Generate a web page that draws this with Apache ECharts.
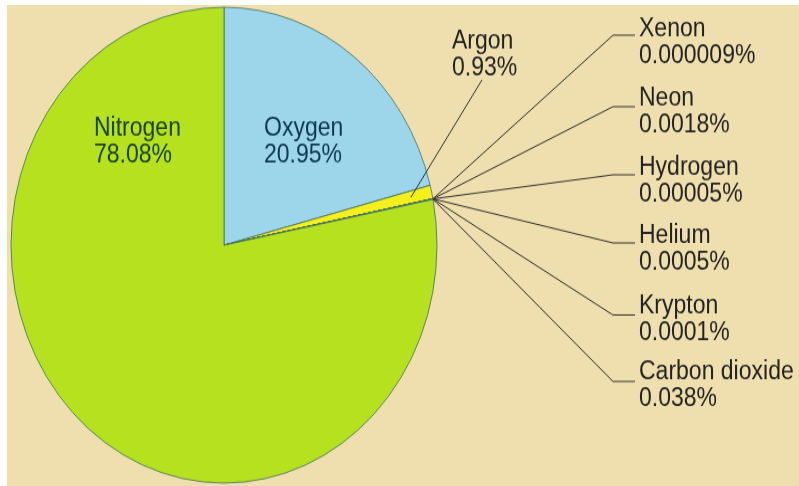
<!DOCTYPE html>
<html>
<head>
<meta charset="utf-8">
<script src="https://cdn.jsdelivr.net/npm/echarts@6/dist/echarts.min.js"></script>
<style>
  html, body { margin: 0; padding: 0; background: #fff; }
  #frame { position: absolute; left: 7px; top: 5px; width: 792px; height: 481px; overflow: hidden; background: #efdfae; }
  /* the source picture is stretched vertically, so the whole chart is too */
  #main { width: 792px; height: 431px; transform: scaleY(1.117); transform-origin: 0 0; }
</style>
</head>
<body>
<div id="frame"><div id="main"></div></div>
<script>
// composition of dry air, % by volume
var gases = ['Oxygen', 'Argon', 'Xenon', 'Neon', 'Hydrogen', 'Helium', 'Krypton', 'Carbon dioxide', 'Nitrogen']
var percent = [20.95, 0.93, 0.000009, 0.0018, 0.00005, 0.0005, 0.0001, 0.038, 78.08]

var chart = echarts.init(document.getElementById('main'))

var center = [217, 215]
var radius = 213
var colors = {
  Oxygen: '#9dd5ea',
  Nitrogen: '#b6e11f'
}
var textColors = {
  Oxygen: '#0e3754',
  Nitrogen: '#17420f'
}
// label boxes (top-left), unscaled chart space
var labelPos = {
  Nitrogen: [87, 99],
  Oxygen: [257, 99],
  Argon: [445, 21],
  Xenon: [632, 10],
  Neon: [632, 72],
  Hydrogen: [632, 134],
  Helium: [632, 195],
  Krypton: [632, 258],
  'Carbon dioxide': [632, 317]
}
// y of the short horizontal leg next to each outer label
var legY = {
  Xenon: 27, Neon: 91, Hydrogen: 152, Helium: 213, Krypton: 277.5, 'Carbon dioxide': 337
}

var total = 0
for (let i in percent) total += percent[i]

// point inside a slice, along its middle angle
function midPoint(idx, k) {
  var before = 0
  for (let i = 0; i < idx; i++) before += percent[i]
  var ang = (before + percent[idx] / 2) / total * Math.PI * 2
  return [center[0] + Math.sin(ang) * radius * k, center[1] - Math.cos(ang) * radius * k]
}

var slices = [], labels = []
for (let i in gases) {
  let name = gases[i]
  let inner = name == 'Nitrogen' || name == 'Oxygen'
  slices.push({
    name: name,
    value: percent[i],
    itemStyle: { color: colors[name] || '#f5ef1c' }
  })
  labels.push({
    name: name,
    value: percent[i],
    label: { color: textColors[name] || '#222' },
    labelLine: { show: !inner }
  })
}

var base = {
  type: 'pie',
  center: center,
  radius: radius,
  startAngle: 90,
  clockwise: true,
  avoidLabelOverlap: false,
  minShowLabelAngle: 0,
  silent: true,
  emphasis: { disabled: true }
}

chart.setOption({
  animation: false,
  series: [
    Object.assign({}, base, {
      z: 2,
      itemStyle: { borderColor: '#3e6e62', borderWidth: 0.8 },
      label: { show: false },
      labelLine: { show: false },
      data: slices
    }),
    // same slices again, see-through, only to carry labels and leader lines above the pie
    Object.assign({}, base, {
      z: 3,
      itemStyle: { color: 'rgba(0,0,0,0)', borderWidth: 0 },
      label: {
        show: true,
        position: 'outside',
        fontFamily: 'Liberation Sans',
        fontSize: 23,
        lineHeight: 24,
        formatter: function (p) {
          return p.name + '\n' + p.value + '%'
        }
      },
      labelLine: {
        show: true,
        length: 20,
        length2: 20,
        smooth: false,
        lineStyle: { color: '#2e2e2e', width: 1 }
      },
      labelLayout: function (p) {
        var name = gases[p.dataIndex]
        var pos = labelPos[name]
        var out = { x: pos[0], y: pos[1], align: 'left', verticalAlign: 'top' }
        if (name == 'Argon') {
          out.labelLinePoints = [midPoint(p.dataIndex, 0.9), [475, 67], [475, 67]]
        } else if (legY[name] != null) {
          out.labelLinePoints = [midPoint(p.dataIndex, 1), [606, legY[name]], [628, legY[name]]]
        }
        return out
      },
      data: labels
    })
  ]
})
</script>
</body>
</html>
